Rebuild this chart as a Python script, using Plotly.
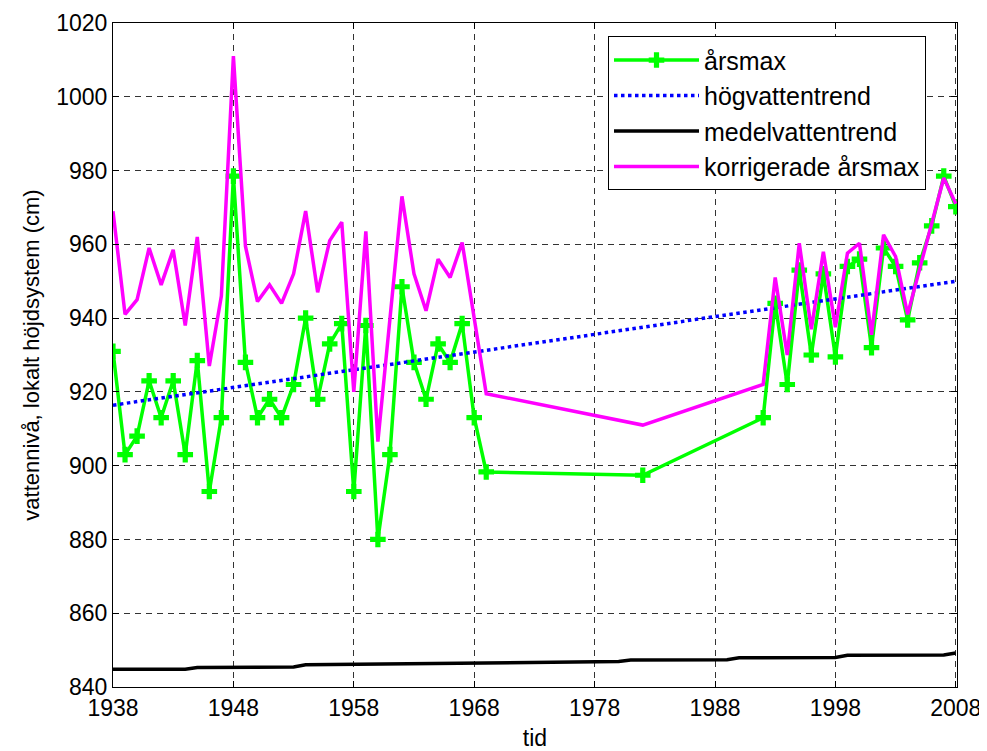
import plotly.graph_objects as go

# årsmax (annual maxima)
ars_years = [1938, 1939, 1940, 1941, 1942, 1943, 1944, 1945, 1946, 1947,
             1948, 1949, 1950, 1951, 1952, 1953, 1954, 1955, 1956, 1957,
             1958, 1959, 1960, 1961, 1962, 1963, 1964, 1965, 1966, 1967,
             1968, 1969, 1982, 1992, 1993, 1994, 1995, 1996, 1997, 1998,
             1999, 2000, 2001, 2002, 2003, 2004, 2005, 2006, 2007, 2008]
ars_vals = [931, 903, 908, 923, 913, 923, 903, 928.5, 893, 913,
            978.5, 928, 913, 918, 913, 922, 940, 918, 933, 938.5,
            893, 938, 880, 903, 948.5, 928, 918, 933, 928, 938.5,
            913, 898.3, 897.4, 913, 944, 922, 953, 930, 952, 929.5,
            954, 956, 932, 959, 954, 939.5, 955, 965, 978.5, 970.2]

# korrigerade årsmax
kor_years = [1938, 1939, 1940, 1941, 1942, 1943, 1944, 1945, 1946, 1947,
             1948, 1949, 1950, 1951, 1952, 1953, 1954, 1955, 1956, 1957,
             1958, 1959, 1960, 1962, 1963, 1964, 1965, 1966, 1967, 1969,
             1982, 1992, 1993, 1994, 1995, 1996, 1997, 1998, 1999, 2000,
             2001, 2002, 2003, 2004, 2007, 2008]
kor_vals = [969, 941, 945, 959, 949, 958.5, 938, 962, 927, 946,
            1011, 959.5, 944.5, 949, 944, 952, 969, 947, 961, 966,
            920, 963.5, 906.5, 973, 952, 942, 956, 951, 960.5, 919.5,
            911, 922, 951, 930, 960.3, 937, 958, 937.5, 957.6, 960.3,
            935.5, 962.6, 956.7, 941, 978, 971]

# högvattentrend
hog_years = [1938, 2008]
hog_vals = [916.4, 950.0]

# medelvattentrend
med_years = [1938, 1944, 1945, 1953, 1954, 1980, 1981, 1989, 1990, 1998, 1999, 2007, 2008]
med_vals = [844.8, 844.8, 845.3, 845.4, 846.0, 846.9, 847.3, 847.4, 847.9, 848.0, 848.6, 848.7, 849.2]

x_ticks = [1938, 1948, 1958, 1968, 1978, 1988, 1998, 2008]
y_ticks = [840, 860, 880, 900, 920, 940, 960, 980, 1000, 1020]

FONT = "Liberation Sans, Arial, sans-serif"

fig = go.Figure()
fig.add_trace(go.Scatter(
    x=ars_years, y=ars_vals, mode="lines+markers", name="årsmax",
    line=dict(color="#00FF00", width=3.5),
    marker=dict(symbol="cross", size=13, color="#00FF00", line=dict(width=0))))
fig.add_trace(go.Scatter(
    x=hog_years, y=hog_vals, mode="lines", name="högvattentrend",
    line=dict(color="#0000FF", width=3.5, dash="dot")))
fig.add_trace(go.Scatter(
    x=med_years, y=med_vals, mode="lines", name="medelvattentrend",
    line=dict(color="#000000", width=3.5)))
fig.add_trace(go.Scatter(
    x=kor_years, y=kor_vals, mode="lines", name="korrigerade årsmax",
    line=dict(color="#FF00FF", width=3.5)))

axis_common = dict(
    showline=True, linecolor="black", linewidth=1, mirror="allticks",
    ticks="inside", ticklen=6, tickcolor="black",
    showgrid=True, gridcolor="#333333", gridwidth=1, griddash="6px,5px",
    zeroline=False, automargin=False,
    tickfont=dict(family=FONT, size=23, color="black"),
)

fig.update_xaxes(range=[1938, 2008.1], tickmode="array", tickvals=x_ticks,
                 ticktext=[str(t) for t in x_ticks],
                 title=dict(text="tid", font=dict(family=FONT, size=23, color="black"), standoff=11),
                 **axis_common)
fig.update_yaxes(range=[840, 1020], tickmode="array", tickvals=y_ticks,
                 ticktext=[str(t) for t in y_ticks],
                 title=dict(text="vattennivå, lokalt höjdsystem (cm)",
                            font=dict(family=FONT, size=22, color="black"), standoff=10),
                 **axis_common)

# page body has an 8px margin; compensate so the plot area lands where the reference has it
fig.update_layout(
    width=979, height=743,
    margin=dict(l=105, r=30, t=15, b=64),
    paper_bgcolor="white", plot_bgcolor="white",
    font=dict(family=FONT, color="black"),
    legend=dict(x=0.5865, y=0.98, xanchor="left", yanchor="top",
                bgcolor="white", bordercolor="black", borderwidth=1,
                font=dict(family=FONT, size=25, color="black"),
                itemwidth=85, tracegroupgap=0),
    showlegend=True,
)

fig.write_html("out.html")
